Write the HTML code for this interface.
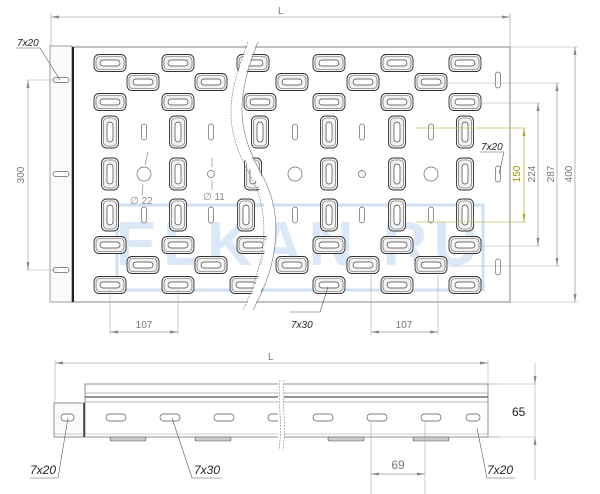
<!DOCTYPE html>
<html><head><meta charset="utf-8"><style>
html,body{margin:0;padding:0;background:#fff;}
svg{display:block;font-family:"Liberation Sans",sans-serif;}
</style></head><body>
<svg width="600" height="494" viewBox="0 0 600 494" xmlns="http://www.w3.org/2000/svg">
<defs>
<g id="h">
<rect x="-16" y="-8.5" width="32" height="17" rx="5" fill="#f2f2f2" stroke="#333" stroke-width="0.9"/>
<rect x="-14" y="-6.5" width="28" height="13" rx="4" fill="none" stroke="#555" stroke-width="0.6"/>
<rect x="-10" y="-3" width="20" height="6" rx="3" fill="#fff" stroke="#444" stroke-width="0.7"/>
</g>
<g id="v">
<rect x="-8.5" y="-16" width="17" height="32" rx="5" fill="#f2f2f2" stroke="#333" stroke-width="0.9"/>
<rect x="-6.5" y="-14" width="13" height="28" rx="4" fill="none" stroke="#555" stroke-width="0.6"/>
<rect x="-3" y="-10" width="6" height="20" rx="3" fill="#fff" stroke="#444" stroke-width="0.7"/>
</g>
<rect id="t" x="-2.5" y="-8" width="5" height="16" rx="2.5" fill="#fff" stroke="#666" stroke-width="0.7"/>
<rect id="lh" x="-8" y="-2.5" width="16" height="5" rx="2.5" fill="#fff" stroke="#666" stroke-width="0.7"/>
</defs>

<!-- top L dimension -->
<line x1="51" y1="17" x2="510" y2="17" stroke="#aaa" stroke-width="0.8"/>
<line x1="51" y1="13" x2="51" y2="46" stroke="#aaa" stroke-width="0.7"/>
<line x1="510" y1="13" x2="510" y2="47" stroke="#aaa" stroke-width="0.7"/>
<path d="M51,17 l8,-1.5 v3z M510,17 l-8,-1.5 v3z" fill="#888"/>
<text x="278" y="14" font-size="10" fill="#777">L</text>

<!-- plate -->
<rect x="50" y="46" width="22" height="256" fill="#fafafa" stroke="#888" stroke-width="0.8"/>
<rect x="72" y="47" width="438" height="255" fill="#fff" stroke="#777" stroke-width="0.9"/>
<line x1="73" y1="47" x2="73" y2="302" stroke="#222" stroke-width="2"/>

<!-- watermark -->
<rect x="117" y="205" width="366" height="85" fill="none" stroke="#cfe0f3" stroke-width="3"/>
<text x="300" y="265" font-size="62" font-weight="bold" fill="#dbe8f7" text-anchor="middle" letter-spacing="6">ELKAN.RU</text>

<!-- horizontal slots -->
<g>
<use href="#h" x="110" y="63"/><use href="#h" x="178" y="63"/><use href="#h" x="253" y="63"/><use href="#h" x="329" y="63"/><use href="#h" x="397" y="63"/><use href="#h" x="465" y="63"/>
<use href="#h" x="143" y="82"/><use href="#h" x="211" y="82"/><use href="#h" x="292" y="82"/><use href="#h" x="363" y="82"/><use href="#h" x="431" y="82"/>
<use href="#h" x="110" y="102"/><use href="#h" x="178" y="102"/><use href="#h" x="260" y="102"/><use href="#h" x="329" y="102"/><use href="#h" x="397" y="102"/><use href="#h" x="465" y="102"/>
<use href="#h" x="110" y="245"/><use href="#h" x="178" y="245"/><use href="#h" x="253" y="245"/><use href="#h" x="329" y="245"/><use href="#h" x="397" y="245"/><use href="#h" x="465" y="245"/>
<use href="#h" x="143" y="265"/><use href="#h" x="211" y="265"/><use href="#h" x="292" y="265"/><use href="#h" x="363" y="265"/><use href="#h" x="431" y="265"/>
<use href="#h" x="110" y="285"/><use href="#h" x="178" y="285"/><use href="#h" x="246" y="285"/><use href="#h" x="329" y="285"/><use href="#h" x="397" y="285"/><use href="#h" x="465" y="285"/>
</g>
<!-- vertical slots -->
<g>
<use href="#v" x="110" y="132"/><use href="#v" x="178" y="132"/><use href="#v" x="260" y="132"/><use href="#v" x="329" y="132"/><use href="#v" x="397" y="132"/><use href="#v" x="465" y="132"/>
<use href="#v" x="110" y="174"/><use href="#v" x="178" y="174"/><use href="#v" x="253" y="174"/><use href="#v" x="329" y="174"/><use href="#v" x="397" y="174"/><use href="#v" x="465" y="174"/>
<use href="#v" x="110" y="215"/><use href="#v" x="178" y="215"/><use href="#v" x="246" y="215"/><use href="#v" x="329" y="215"/><use href="#v" x="397" y="215"/><use href="#v" x="465" y="215"/>
</g>
<!-- thin slots -->
<use href="#t" x="144" y="132"/><use href="#t" x="211" y="132"/><use href="#t" x="295" y="132"/><use href="#t" x="362" y="132"/><use href="#t" x="431" y="132"/>
<use href="#t" x="144" y="215"/><use href="#t" x="211" y="215"/><use href="#t" x="295" y="215"/><use href="#t" x="362" y="215"/><use href="#t" x="431" y="215"/>
<use href="#t" x="498" y="80"/><use href="#t" x="498" y="174"/><use href="#t" x="498" y="267"/>
<use href="#lh" x="61" y="80"/><use href="#lh" x="61" y="174"/><use href="#lh" x="61" y="270"/>
<!-- circles -->
<g fill="#fff" stroke="#666" stroke-width="0.7">
<circle cx="144" cy="174" r="7"/><circle cx="211" cy="174" r="3.5"/><circle cx="295" cy="174" r="7"/><circle cx="362" cy="174" r="3.5"/><circle cx="431" cy="174" r="7"/>
</g>
<path d="M148,152 l-3,13 M142,196 l1,-12 M212,158 v9 M212,190 v-9" stroke="#777" stroke-width="0.6"/>
<text x="130" y="204" font-size="10" fill="#888">∅ 22</text>
<text x="203" y="200" font-size="10" fill="#888">∅ 11</text>

<!-- break wave -->
<path d="M248,42 C225,100 225,130 250,175 C275,220 262,270 243,310" fill="none" stroke="#888" stroke-width="0.7" stroke-dasharray="2,1"/>
<path d="M258,42 C235,100 237,130 262,175 C287,220 275,270 253,310" fill="none" stroke="#888" stroke-width="0.7"/>
<path d="M249,42 C226,100 228,130 253,175 C278,220 265,270 244,310 L252,310 C274,270 286,220 261,175 C236,130 234,100 257,42Z" fill="#fff"/>

<!-- left dims -->
<path d="M26,80 H58 M26,270 H58" stroke="#aaa" stroke-width="0.6"/>
<line x1="28" y1="80" x2="28" y2="270" stroke="#aaa" stroke-width="0.7"/>
<path d="M28,80 l-1.5,8 h3z M28,270 l-1.5,-8 h3z" fill="#888"/>
<text x="24" y="175" font-size="10" fill="#777" transform="rotate(-90 24 175)" text-anchor="middle">300</text>
<path d="M16,48 H40 L60,80" stroke="#555" stroke-width="0.6" fill="none"/>
<text x="17" y="46" font-size="10" font-style="italic" fill="#222">7x20</text>

<!-- right dims -->
<path d="M510,47 H578 M510,302 H578 M440,83 H560 M480,103 H540 M416,128 H526 M416,222 H526 M480,246 H540 M440,266 H560" stroke="#aaa" stroke-width="0.6"/>
<path d="M416,128 H526 M416,222 H526" stroke="#cc4" stroke-width="0.6"/>
<line x1="575" y1="47" x2="575" y2="302" stroke="#999" stroke-width="0.7"/>
<line x1="557" y1="83" x2="557" y2="266" stroke="#999" stroke-width="0.7"/>
<line x1="538" y1="103" x2="538" y2="246" stroke="#999" stroke-width="0.7"/>
<line x1="524" y1="128" x2="524" y2="222" stroke="#aa2" stroke-width="0.7"/>
<path d="M575,47 l-1.5,8 h3z M575,302 l-1.5,-8 h3z M557,83 l-1.5,8 h3z M557,266 l-1.5,-8 h3z M538,103 l-1.5,8 h3z M538,246 l-1.5,-8 h3z" fill="#888"/>
<path d="M524,128 l-1.5,8 h3z M524,222 l-1.5,-8 h3z" fill="#aa2"/>
<text x="572" y="174" font-size="10" fill="#777" transform="rotate(-90 572 174)" text-anchor="middle">400</text>
<text x="554" y="174" font-size="10" fill="#777" transform="rotate(-90 554 174)" text-anchor="middle">287</text>
<text x="535" y="174" font-size="10" fill="#777" transform="rotate(-90 535 174)" text-anchor="middle">224</text>
<text x="520" y="174" font-size="10" fill="#990" transform="rotate(-90 520 174)" text-anchor="middle">150</text>
<path d="M480,152 H504 L499,174" stroke="#555" stroke-width="0.6" fill="none"/>
<text x="481" y="150" font-size="10" font-style="italic" fill="#222">7x20</text>

<!-- bottom dims top view -->
<path d="M110,290 V335 M178,290 V335 M371,270 V335 M438,270 V335" stroke="#aaa" stroke-width="0.6"/>
<line x1="110" y1="332" x2="178" y2="332" stroke="#999" stroke-width="0.7"/>
<line x1="371" y1="332" x2="438" y2="332" stroke="#999" stroke-width="0.7"/>
<path d="M110,332 l8,-1.5 v3z M178,332 l-8,-1.5 v3z M371,332 l8,-1.5 v3z M438,332 l-8,-1.5 v3z" fill="#888"/>
<text x="144" y="328" font-size="10" fill="#777" text-anchor="middle">107</text>
<text x="404" y="328" font-size="10" fill="#777" text-anchor="middle">107</text>
<path d="M328,287 L320,312 H290" stroke="#555" stroke-width="0.6" fill="none"/>
<text x="291" y="328" font-size="10" font-style="italic" fill="#222">7x30</text>

<!-- side view -->
<line x1="55" y1="363" x2="488" y2="363" stroke="#aaa" stroke-width="0.8"/>
<path d="M55,363 l8,-1.5 v3z M488,363 l-8,-1.5 v3z" fill="#888"/>
<line x1="55" y1="360" x2="55" y2="402" stroke="#aaa" stroke-width="0.6"/>
<line x1="488" y1="360" x2="488" y2="384" stroke="#aaa" stroke-width="0.6"/>
<text x="268" y="360" font-size="10" fill="#777">L</text>
<rect x="85" y="384" width="403" height="53" fill="#fff" stroke="#777" stroke-width="0.8"/>
<line x1="85" y1="393" x2="488" y2="393" stroke="#777" stroke-width="0.6"/>
<line x1="85" y1="397" x2="488" y2="397" stroke="#555" stroke-width="1.2"/>
<line x1="85" y1="402" x2="488" y2="402" stroke="#777" stroke-width="0.6"/>
<line x1="85" y1="434" x2="488" y2="434" stroke="#999" stroke-width="0.5"/>
<rect x="54" y="403" width="30" height="34" fill="#fafafa" stroke="#777" stroke-width="0.8"/>
<line x1="84" y1="403" x2="84" y2="437" stroke="#333" stroke-width="1.5"/>
<line x1="54" y1="434" x2="84" y2="434" stroke="#999" stroke-width="0.5"/>
<g fill="#fff" stroke="#555" stroke-width="0.7">
<rect x="61" y="414" width="13" height="7" rx="3.5"/>
<rect x="106" y="414" width="20" height="7" rx="3.5"/><rect x="160" y="414" width="20" height="7" rx="3.5"/><rect x="214" y="414" width="20" height="7" rx="3.5"/><rect x="268" y="414" width="14" height="7" rx="3.5"/>
<rect x="313" y="414" width="20" height="7" rx="3.5"/><rect x="367" y="414" width="20" height="7" rx="3.5"/><rect x="421" y="414" width="20" height="7" rx="3.5"/><rect x="466" y="414" width="14" height="7" rx="3.5"/>
</g>
<g fill="#ccc" stroke="#555" stroke-width="0.6">
<rect x="110" y="437" width="36" height="4" rx="1.5"/><rect x="195" y="437" width="36" height="4" rx="1.5"/><rect x="328" y="437" width="36" height="4" rx="1.5"/><rect x="413" y="437" width="36" height="4" rx="1.5"/>
</g>
<rect x="278" y="380" width="6" height="70" fill="#fff"/>
<path d="M280,380 c-3,20 3,40 -1,70 M284,380 c-3,20 3,40 -1,70" stroke="#888" stroke-width="0.6" fill="none" stroke-dasharray="2,1"/>
<path d="M488,384 H500 M488,437 H500" stroke="#aaa" stroke-width="0.6"/>
<line x1="535" y1="363" x2="535" y2="480" stroke="#aaa" stroke-width="0.6"/>
<path d="M535,384 l-1.5,-8 h3z M535,437 l-1.5,8 h3z" fill="#888"/>
<path d="M488,384 H536 M488,437 H536" stroke="#aaa" stroke-width="0.5"/>
<text x="512" y="416" font-size="12" fill="#222">65</text>
<path d="M371,421 V496 M425,421 V496" stroke="#aaa" stroke-width="0.6"/>
<line x1="371" y1="474" x2="425" y2="474" stroke="#999" stroke-width="0.7"/>
<path d="M371,474 l8,-1.5 v3z M425,474 l-8,-1.5 v3z" fill="#888"/>
<text x="398" y="469" font-size="12" fill="#777" text-anchor="middle">69</text>
<path d="M68,418 L58,478 H30" stroke="#555" stroke-width="0.6" fill="none"/>
<text x="30" y="474" font-size="12" font-style="italic" fill="#222">7x20</text>
<path d="M172,418 L192,478 H222" stroke="#555" stroke-width="0.6" fill="none"/>
<text x="194" y="474" font-size="12" font-style="italic" fill="#222">7x30</text>
<path d="M477,428 L487,478 H515" stroke="#555" stroke-width="0.6" fill="none"/>
<text x="487" y="474" font-size="12" font-style="italic" fill="#222">7x20</text>
</svg>
</body></html>
